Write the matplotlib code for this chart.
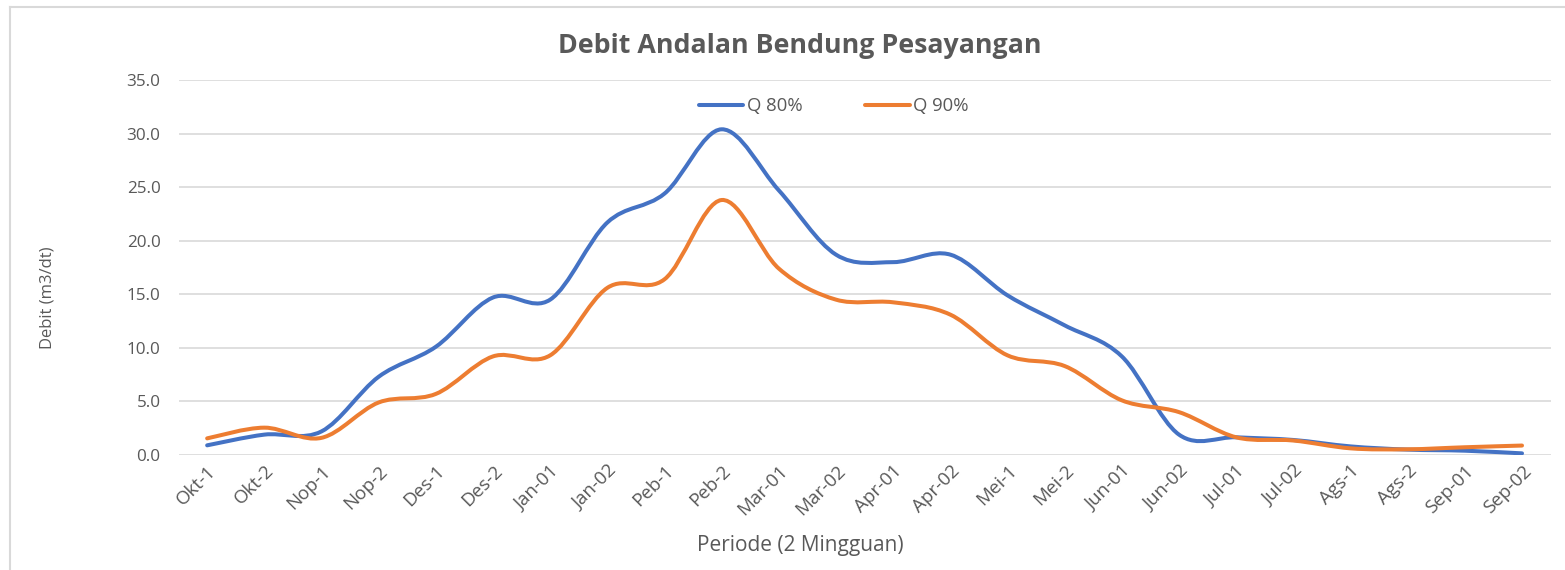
import numpy as np
import matplotlib
matplotlib.use("Agg")
import matplotlib.pyplot as plt
from matplotlib.path import Path
from matplotlib.patches import PathPatch
from matplotlib.lines import Line2D

# ── Data ──────────────────────────────────────────────────────────────────────
periods = ["Okt-1", "Okt-2", "Nop-1", "Nop-2", "Des-1", "Des-2",
           "Jan-01", "Jan-02", "Peb-1", "Peb-2", "Mar-01", "Mar-02",
           "Apr-01", "Apr-02", "Mei-1", "Mei-2", "Jun-01", "Jun-02",
           "Jul-01", "Jul-02", "Ags-1", "Ags-2", "Sep-01", "Sep-02"]
q80 = [0.9, 1.9, 2.2, 7.3, 10.1, 14.7, 14.5, 21.7, 24.4, 30.4, 24.7, 18.7,
       18.0, 18.7, 14.9, 12.1, 9.2, 1.9, 1.65, 1.4, 0.8, 0.5, 0.4, 0.15]
q90 = [1.55, 2.55, 1.6, 4.9, 5.7, 9.2, 9.3, 15.6, 16.4, 23.8, 17.4, 14.5,
       14.25, 13.1, 9.3, 8.3, 5.1, 4.0, 1.65, 1.35, 0.62, 0.53, 0.72, 0.88]

BLUE = "#4472C4"; ORANGE = "#ED7D31"; TEXT = "#595959"; GRID = "#D9D9D9"
plt.rcParams["font.family"] = ["Open Sans", "DejaVu Sans"]
W, H = 1565, 570


def smooth_path(xs, ys):
    # Excel-style smoothed line: cubic Bezier through every point
    pts = np.column_stack([xs, ys]).astype(float)
    ext = np.vstack([pts[0], pts, pts[-1]])
    verts = [pts[0]]
    codes = [Path.MOVETO]
    for i in range(len(pts) - 1):
        p0, p1, p2, p3 = ext[i], ext[i + 1], ext[i + 2], ext[i + 3]
        verts += [p1 + (p2 - p0) / 6, p2 - (p3 - p1) / 6, p2]
        codes += [Path.CURVE4] * 3
    return Path(verts, codes)


fig = plt.figure(figsize=(W / 100, H / 100), dpi=100)
ax = fig.add_axes([0.1141, 0.2018, 0.8767, 0.6578])

x = np.arange(len(periods))
for vals, col in [(q80, BLUE), (q90, ORANGE)]:
    ax.add_patch(PathPatch(smooth_path(x, vals), fill=False, edgecolor=col,
                           lw=2.9, capstyle="round", joinstyle="round", zorder=3))

ax.set_xlim(-0.5, len(periods) - 0.5)
ax.set_ylim(0, 35)
ax.set_yticks(np.arange(0, 36, 5))
ax.set_yticklabels([f"{v:.1f}" for v in np.arange(0, 36, 5)])
ax.set_xticks(x)
ax.set_xticklabels(periods, rotation=45, ha="right", rotation_mode="anchor")
ax.tick_params(axis="both", length=0, colors=TEXT)
ax.tick_params(axis="y", pad=13, labelsize=12.3)
ax.tick_params(axis="x", pad=5, labelsize=13.5)
for sp in ax.spines.values():
    sp.set_visible(False)
ax.grid(True, axis="y", color=GRID, lw=1.2)
ax.set_axisbelow(True)

fig.text(47 / W, 1 - 298 / H, "Debit (m3/dt)", rotation=90, ha="center",
         va="center", fontsize=12, color=TEXT)
fig.text(800 / W, 1 - 545 / H, "Periode (2 Mingguan)", ha="center",
         va="center", fontsize=15, color=TEXT)
fig.text(800 / W, 1 - 46 / H, "Debit Andalan Bendung Pesayangan", ha="center",
         va="center", fontsize=19.3, fontweight="bold", color=TEXT)

handles = [Line2D([], [], color=BLUE, lw=2.9, solid_capstyle="round"),
           Line2D([], [], color=ORANGE, lw=2.9, solid_capstyle="round")]
fig.legend(handles, ["Q 80%", "Q 90%"], loc="center", ncol=2,
           bbox_to_anchor=(834 / W, 1 - 106 / H), frameon=False, fontsize=13.3,
           labelcolor=TEXT, handlelength=2.4, handletextpad=0.2,
           columnspacing=3.4, borderpad=0)

# chart border (left and top edges visible)
fig.add_artist(Line2D([10 / W, 10 / W], [0, 1 - 7 / H],
                      transform=fig.transFigure, color=GRID, lw=1.5))
fig.add_artist(Line2D([10 / W, 1], [1 - 7 / H, 1 - 7 / H],
                      transform=fig.transFigure, color=GRID, lw=1.5))

fig.savefig("out.png", dpi=100, facecolor="white")
